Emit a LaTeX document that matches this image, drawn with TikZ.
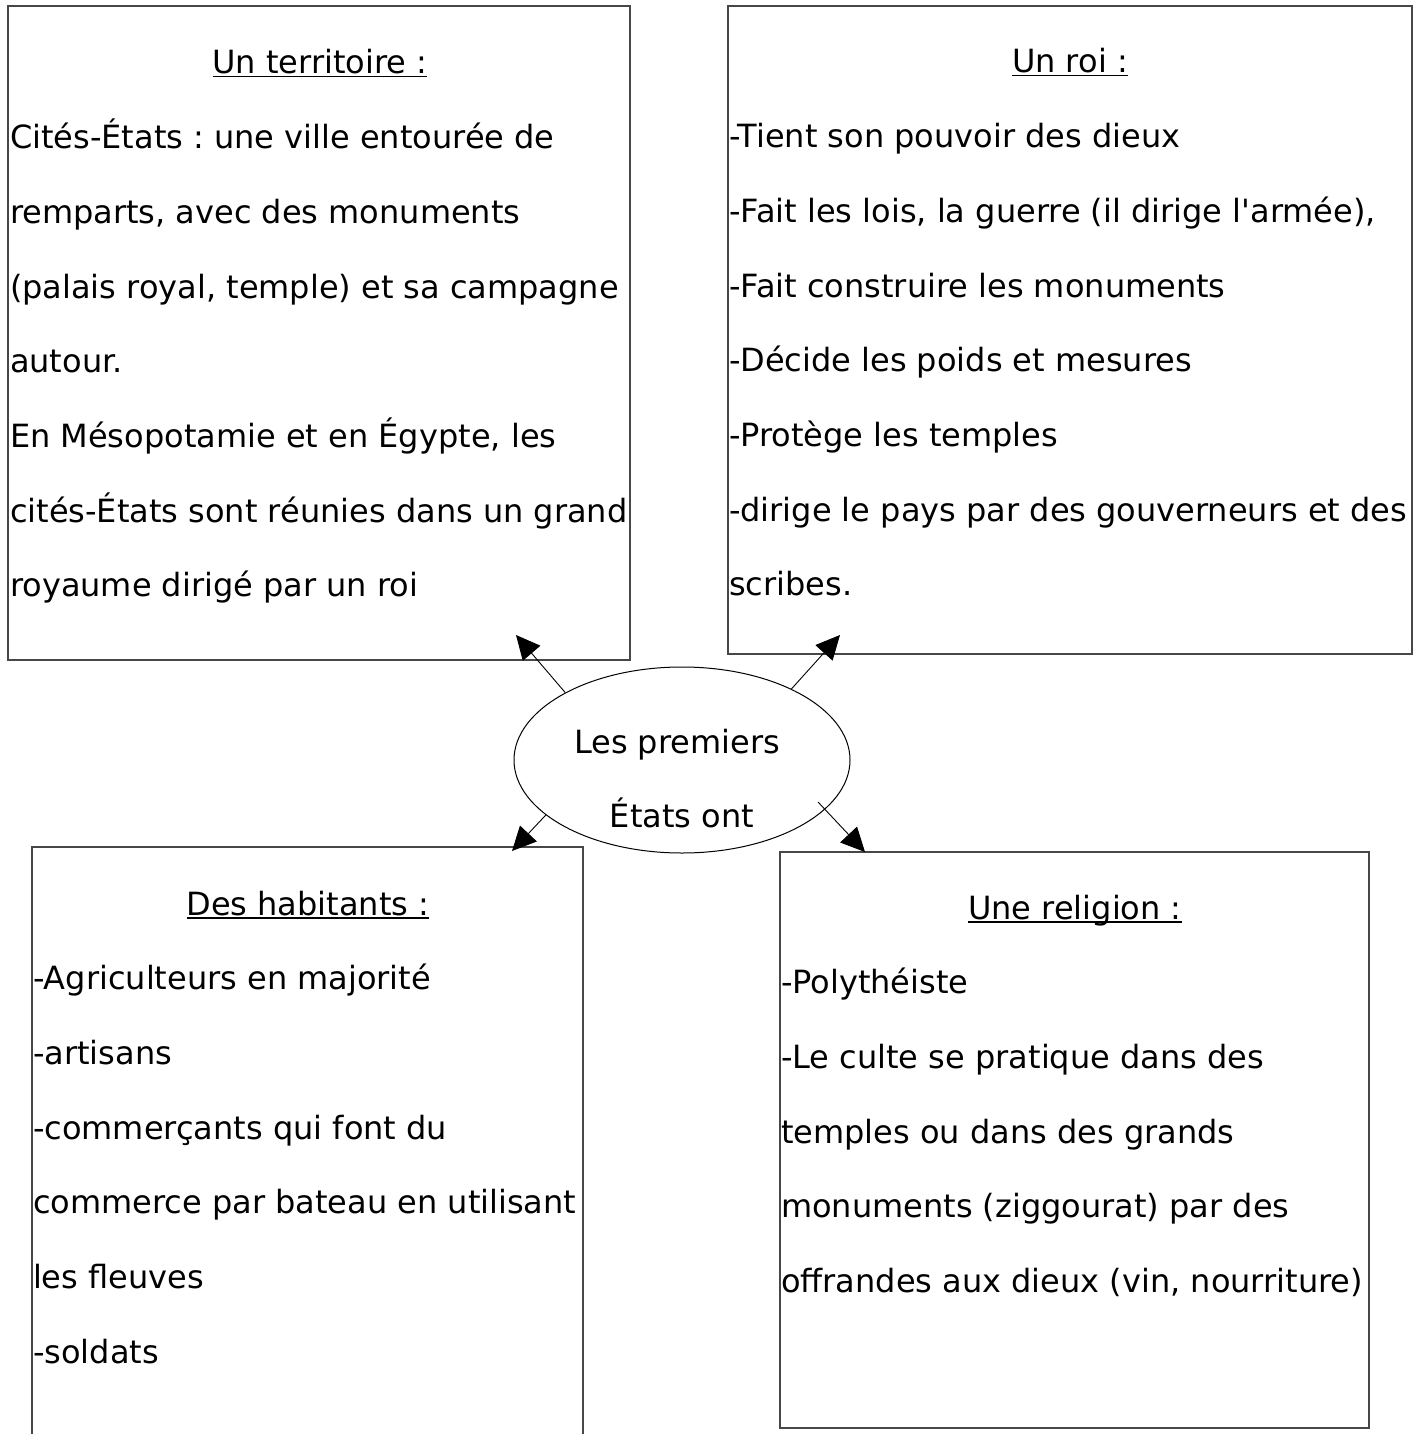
\documentclass[tikz,border=0pt]{standalone}
\usepackage{fontspec}
\setmainfont{DejaVu Sans}[Ligatures=TeXOff]
\usetikzlibrary{arrows.meta,shapes.geometric}
\frenchspacing
\newcommand\myul[1]{\setbox0\hbox{#1}\rlap{\rule[-3.5pt]{\wd0}{1.6pt}}\box0}
\newcommand\ttl[1]{\hbox to \hsize{\hfil\myul{#1}\hfil}}
\newcommand\tline[1]{\hbox{#1}}
\newcommand\txtsize{\fontsize{32}{74.7}\selectfont}
\tikzset{
  box/.style={draw=black!72, line width=1.3pt, rectangle, inner sep=0pt, outer sep=0pt, anchor=north west},
  txt/.style={inner sep=0pt, outer sep=0pt, anchor=base west},
  ctxt/.style={inner sep=0pt, outer sep=0pt, anchor=base, font=\txtsize},
  oval/.style={draw=black, line width=1pt, ellipse, minimum width=336pt, minimum height=186pt, inner sep=0pt},
  arr/.style={draw=black, line width=0.9pt, -{Triangle[length=24pt,width=23pt]}}
}
\begin{document}
\begin{tikzpicture}[x=1pt,y=-1pt]
\useasboundingbox (0,0) rectangle (1419,1434);
\fill[white] (0,0) rectangle (1419,1434);
% boxes
\node[box, minimum width=622pt, minimum height=654pt] (terr) at (8,6) {};
\node[box, minimum width=684pt, minimum height=648pt] (roi) at (728,6) {};
\node[box, minimum width=551pt, minimum height=610pt] (hab) at (32,847) {};
\node[box, minimum width=589pt, minimum height=576pt] (rel) at (780,852) {};
% texts
\node[txt] (terrt) at (10,74) {\parbox[t]{620pt}{\txtsize
\ttl{Un territoire :}
\tline{Cités-États : une ville entourée de}
\tline{remparts, avec des monuments}
\tline{(palais royal, temple) et sa campagne}
\tline{autour.}
\tline{En Mésopotamie et en Égypte, les}
\tline{cités-États sont réunies dans un grand}
\tline{royaume dirigé par un roi}}};
\node[txt] (roit) at (729,73) {\parbox[t]{682pt}{\txtsize
\ttl{Un roi :}
\tline{-Tient son pouvoir des dieux}
\tline{-Fait les lois, la guerre (il dirige l'armée),}
\tline{-Fait construire les monuments}
\tline{-Décide les poids et mesures}
\tline{-Protège les temples}
\tline{-dirige le pays par des gouverneurs et des}
\tline{scribes.}}};
\node[txt] (habt) at (33,915) {\parbox[t]{550pt}{\txtsize
\ttl{Des habitants :}
\tline{-Agriculteurs en majorité}
\tline{-artisans}
\tline{-commerçants qui font du}
\tline{commerce par bateau en utilisant}
\tline{les fleuves}
\tline{-soldats}}};
\node[txt] (relt) at (781,919) {\parbox[t]{588pt}{\txtsize
\ttl{Une religion :}
\tline{-Polythéiste}
\tline{-Le culte se pratique dans des}
\tline{temples ou dans des grands}
\tline{monuments (ziggourat) par des}
\tline{offrandes aux dieux (vin, nourriture)}}};
% centre
\node[oval] (c) at (682,760) {};
\node[ctxt] (c1) at (677,753) {Les premiers};
\node[ctxt] (c2) at (682,827) {États ont};
% arrow ends
\coordinate (s4) at (818,802);
\coordinate (a1) at (516,635);
\coordinate (a2) at (840,635);
\coordinate (a3) at (512,851);
\coordinate (a4) at (865,852);
\draw[arr] (c.150.6) -- (a1);
\draw[arr] (c.33.4) -- (a2);
\draw[arr] (c.202.9) -- (a3);
\draw[arr] (s4) -- (a4);
\end{tikzpicture}
\end{document}
